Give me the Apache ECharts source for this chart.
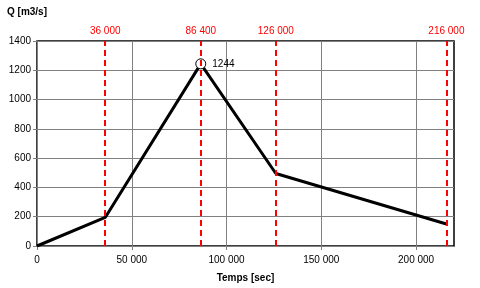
<!DOCTYPE html>
<html><head><meta charset="utf-8">
<script src="https://cdn.jsdelivr.net/npm/echarts@6/dist/echarts.min.js"></script>
<style>html,body{margin:0;padding:0;background:#fff}#c{width:480px;height:288px}</style>
</head><body><div id="c"></div>
<script>
var times = [0, 36000, 86400, 126000, 216000];
var flows = [0, 195, 1244, 495, 150];
var markerTimes = [36000, 86400, 126000, 216000];
var peakTime = 86400;
var peakValue = 1244;
var xTicks = [0, 50000, 100000, 150000, 200000];

function fmt(v){ return String(v).replace(/\B(?=(\d{3})+(?!\d))/g, ' '); }
var F = 'Liberation Sans, Arial, sans-serif';

var chart = echarts.init(document.getElementById('c'), null, {renderer:'canvas'});
chart.setOption({
  animation:false,
  grid:{left:37, right:26, top:41, bottom:41, show:true, borderColor:'#000', borderWidth:1.5, backgroundColor:'transparent'},
  xAxis:{type:'value', min:0, max:220000, interval:50000,
    name:'Temps [sec]', nameLocation:'middle', nameGap:27,
    nameTextStyle:{fontFamily:F, fontSize:10, fontWeight:'bold', color:'#000'},
    axisLine:{show:true, lineStyle:{color:'#808080', width:1}},
    axisTick:{show:true, length:4, lineStyle:{color:'#808080'}, customValues:xTicks},
    axisLabel:{fontFamily:F, fontSize:10, color:'#000', margin:9, formatter:function(v){return fmt(v);}, customValues:xTicks},
    splitLine:{show:true, lineStyle:{color:'#808080', width:1}}
  },
  yAxis:{type:'value', min:0, max:1400, interval:200,
    name:'Q [m3/s]', nameLocation:'end', nameGap:24,
    nameTextStyle:{fontFamily:F, fontSize:10, fontWeight:'bold', color:'#000', align:'left', padding:[0,0,0,-30]},
    axisLine:{show:true, lineStyle:{color:'#808080', width:1}},
    axisTick:{show:true, length:4, lineStyle:{color:'#808080'}},
    axisLabel:{fontFamily:F, fontSize:10, color:'#000', margin:6, formatter:function(v){return String(v);}},
    splitLine:{show:true, lineStyle:{color:'#808080', width:1}}
  },
  series:[
    {type:'line', data:times.map(function(t,i){return [t, flows[i]];}),
     symbol:'none', lineStyle:{color:'#000', width:3}, z:3,
     markLine:{silent:true, symbol:'none', z:6,
       lineStyle:{color:'#ff0000', type:[6,4], width:2},
       label:{show:true, position:'end', color:'#ff0000', fontFamily:F, fontSize:10, distance:5,
         formatter:function(p){return fmt(p.value);}},
       data:markerTimes.map(function(t){return {xAxis:t};})
     }
    },
    {type:'scatter', data:[[peakTime, peakValue]], symbol:'circle', symbolSize:10,
     itemStyle:{color:'#fff', borderColor:'#000', borderWidth:1, opacity:1}, z:5,
     label:{show:true, position:'right', distance:6, color:'#000', fontFamily:F, fontSize:10,
       formatter:function(p){return String(p.value[1]);}}
    }
  ]
});
</script></body></html>
